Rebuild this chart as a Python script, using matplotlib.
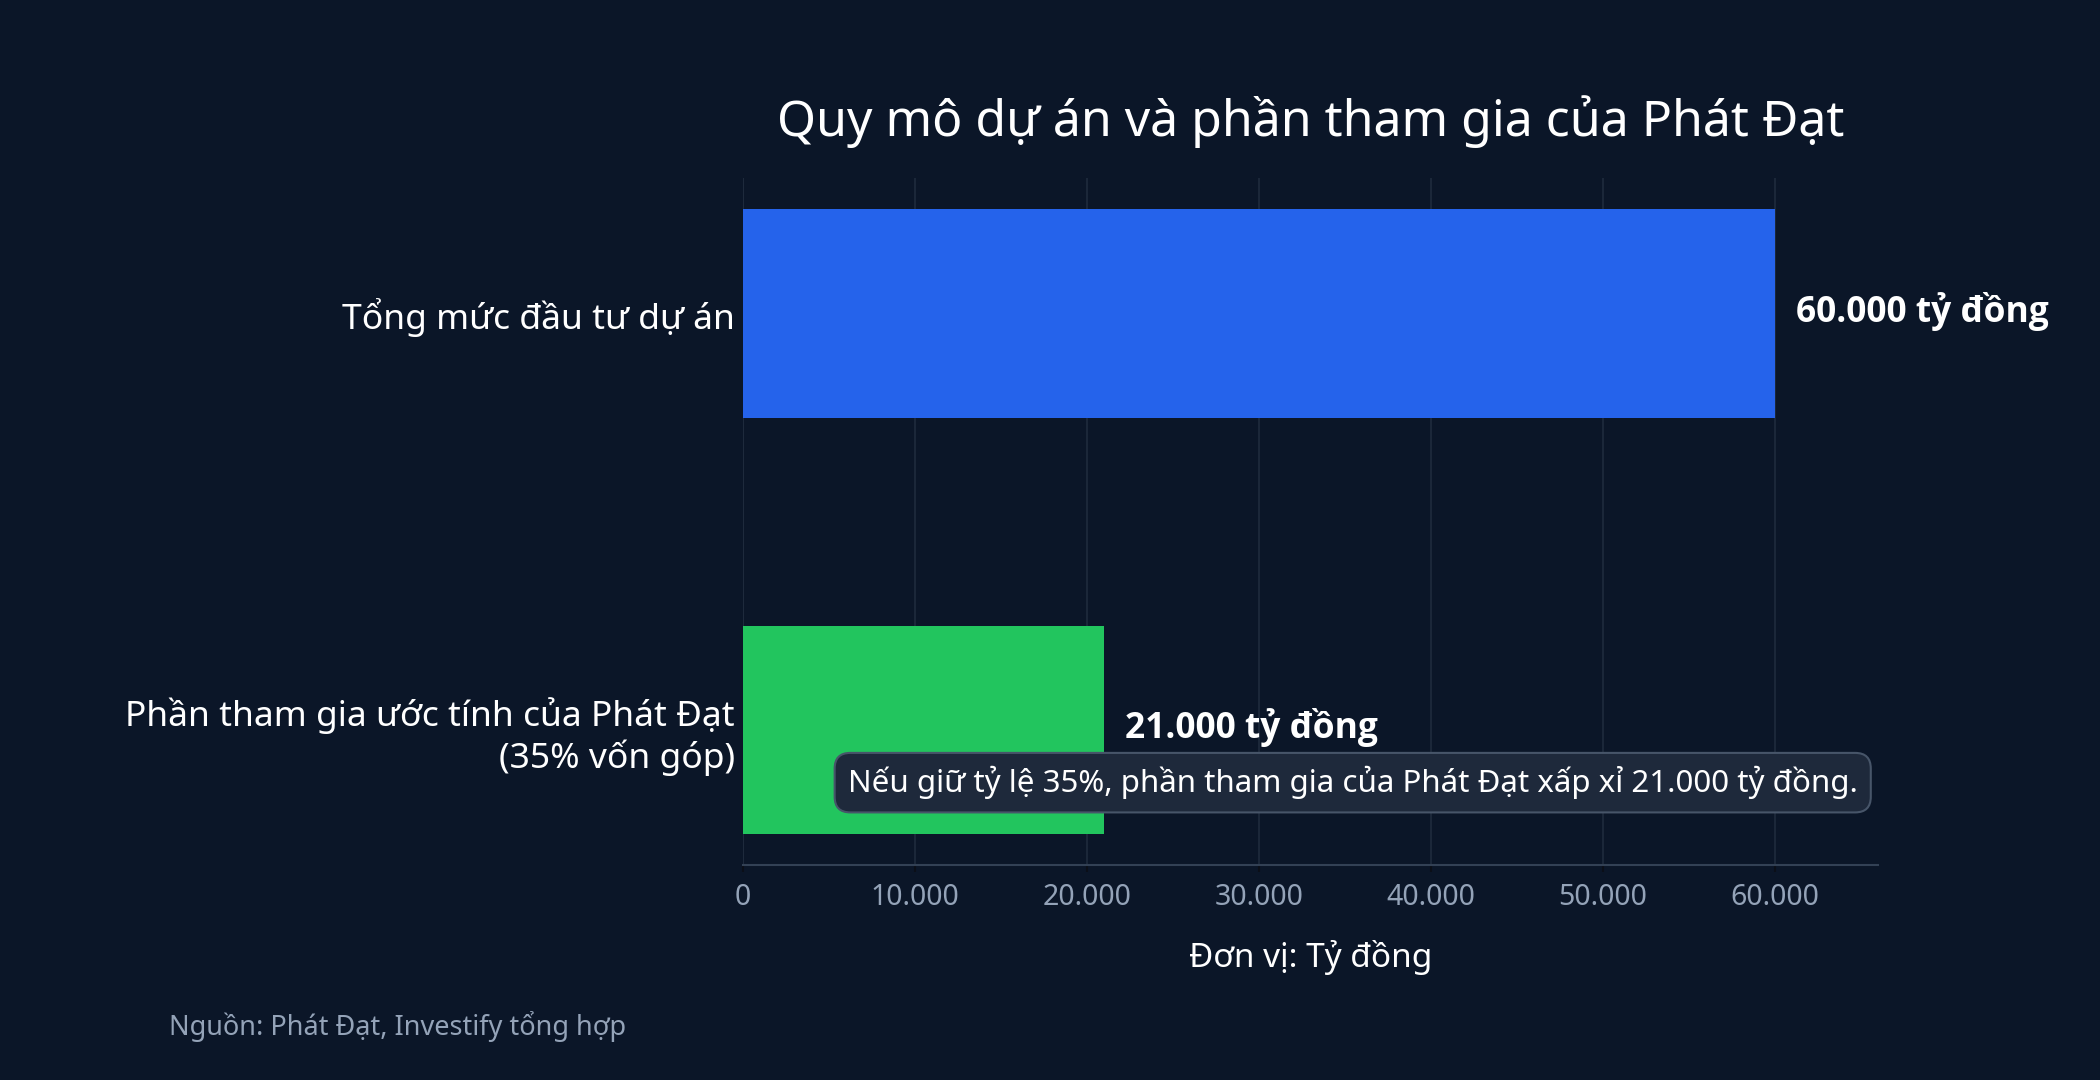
import matplotlib.pyplot as plt
from matplotlib.ticker import FuncFormatter

# data
categories = ['Phần tham gia ước tính của Phát Đạt\n(35% vốn góp)', 'Tổng mức đầu tư dự án']
values = [21000, 60000]
bar_colors = ['#22c55e', '#2563eb']
value_labels = ['21.000 tỷ đồng', '60.000 tỷ đồng']
x_ticks = [0, 10000, 20000, 30000, 40000, 50000, 60000]
note = 'Nếu giữ tỷ lệ 35%, phần tham gia của Phát Đạt xấp xỉ 21.000 tỷ đồng.'

bg = '#0b1628'
plt.rcParams['font.family'] = ['Noto Sans', 'DejaVu Sans']

fig = plt.figure(figsize=(21, 10.8), dpi=100, facecolor=bg)
ax = fig.add_axes([0.3538, 0.199, 0.5405, 0.636], facecolor=bg)

ypos = list(range(len(categories)))
ax.barh(ypos, values, height=0.5, color=bar_colors, zorder=2)

ax.set_xlim(0, 66000)
ax.set_ylim(-0.325, 1.325)
ax.set_xticks(x_ticks)
ax.xaxis.set_major_formatter(FuncFormatter(lambda v, p: f'{int(v):,}'.replace(',', '.')))
ax.set_yticks(ypos)
ax.set_yticklabels(categories, fontsize=25.5, color='white', ha='right', multialignment='right')
ax.tick_params(axis='y', length=0, pad=6)
ax.tick_params(axis='x', colors='#0b0f18', length=5, width=1.5, pad=8, labelsize=20.5, labelcolor='#94a3b8')

ax.grid(axis='x', color='#1f2b3d', linewidth=1.2, zorder=0)
for s in ['top', 'right', 'left']:
    ax.spines[s].set_visible(False)
ax.spines['bottom'].set_color('#334155')
ax.spines['bottom'].set_linewidth(1.5)
ax.axvline(0, color='#1f2b3d', linewidth=1.2, zorder=0)

for y, v, lab in zip(ypos, values, value_labels):
    ax.annotate(lab, (v, y), xytext=(15, 1.5), textcoords='offset points',
                ha='left', va='center', fontsize=25.5, fontweight='bold', color='white',
                family=['Open Sans', 'DejaVu Sans'])

ax.text(35455, -0.127, note, ha='center', va='center', fontsize=22.5, color='white', zorder=5,
        bbox=dict(boxstyle='round,pad=0.42,rounding_size=0.5', fc='#1e293b', ec='#475569', lw=1.5))

ax.set_xlabel('Đơn vị: Tỷ đồng', fontsize=24, color='white', labelpad=20)
fig.text(0.624, 0.887, 'Quy mô dự án và phần tham gia của Phát Đạt', ha='center', va='center',
         fontsize=36, color='white')
fig.text(0.0805, 0.05, 'Nguồn: Phát Đạt, Investify tổng hợp', ha='left', va='center',
         fontsize=19.5, color='#94a3b8')

fig.savefig('out.png', dpi=100, facecolor=bg)
